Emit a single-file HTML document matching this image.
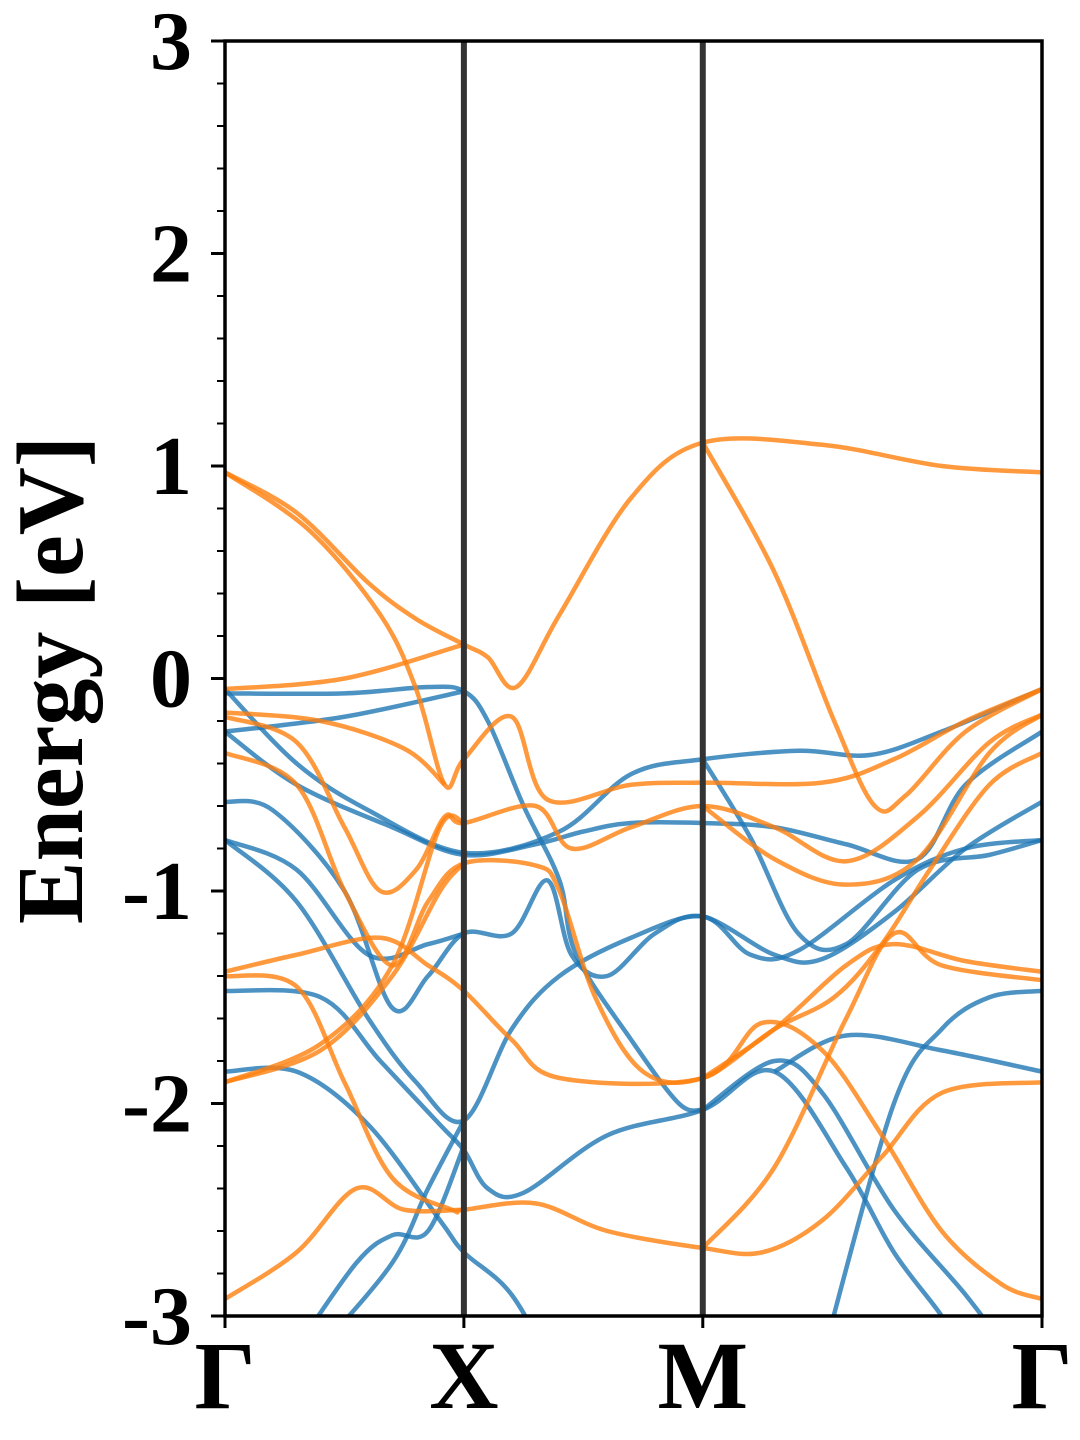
<!DOCTYPE html>
<html><head><meta charset="utf-8"><style>
body{margin:0;background:#fff}
svg{display:block}
text{font-family:"Liberation Serif",serif;font-weight:bold;fill:#000}
</style></head><body>
<svg id="chart" width="1080" height="1440" viewBox="0 0 1080 1440" xmlns="http://www.w3.org/2000/svg">
<defs><clipPath id="clip"><rect x="225" y="41" width="817" height="1275"/></clipPath></defs>
<g id="bands" clip-path="url(#clip)"></g>
<g id="axes"></g>
<text transform="translate(82,680) rotate(-90)" text-anchor="middle" font-size="94">Energy [eV]</text>
</svg>
<script>
const kLabels = ["Γ","X","M","Γ"];
const kPos = [0,1,2,3.42];
const yTicks = [3,2,1,0,-1,-2,-3];
const yTickLabels = ["3","2","1","0","-1","-2","-3"];
const blueBands = [
[[0,-0.07],[0.5,-0.07],[0.85,-0.04],[1.0,-0.06],[1.1,-0.2],[1.25,-0.6],[1.4,-0.95],[1.47,-1.3],[1.7,-1.7],[1.9,-2.0],[2.0,-2.03]],
[[0,-0.25],[0.5,-0.18],[1.0,-0.06]],
[[0,-0.05],[0.3,-0.4],[0.6,-0.62],[1.0,-0.82],[1.4,-0.72],[1.7,-0.45],[2.0,-0.38],[2.4,-0.34],[2.7,-0.36],[3.0,-0.25],[3.42,-0.05]],
[[0,-0.25],[0.3,-0.5],[0.7,-0.7],[1.0,-0.83],[1.3,-0.78],[1.5,-0.72],[1.7,-0.68],[2.0,-0.68],[2.3,-0.7],[2.6,-0.78],[2.9,-0.85],[3.1,-0.5],[3.42,-0.25]],
[[0,-0.58],[0.2,-0.62],[0.5,-1.0],[0.7,-1.55],[0.85,-1.4],[1.0,-1.2],[1.2,-1.2],[1.35,-0.95],[1.45,-1.3],[1.6,-1.4],[1.8,-1.2],[2.0,-1.12],[2.3,-1.3],[2.5,-1.32],[2.8,-1.1],[3.1,-0.8],[3.42,-0.58]],
[[0,-0.76],[0.3,-0.9],[0.6,-1.3],[0.85,-1.25],[1.0,-1.2]],
[[0,-0.76],[0.3,-1.05],[0.6,-1.6],[0.8,-1.9],[1.0,-2.08],[1.2,-1.65],[1.4,-1.4],[1.7,-1.22],[2.0,-1.12],[2.2,-1.3],[2.4,-1.28],[2.8,-0.95],[3.1,-0.8],[3.42,-0.76]],
[[2.0,-0.38],[2.2,-0.75],[2.4,-1.2],[2.6,-1.25],[2.9,-0.9],[3.2,-0.83],[3.42,-0.76]],
[[0,-1.47],[0.4,-1.5],[0.65,-1.8],[0.9,-2.1],[1.0,-2.22],[1.1,-2.4],[1.25,-2.42],[1.6,-2.15],[2.0,-2.03],[2.3,-1.85],[2.6,-2.3],[2.8,-2.7],[3.0,-3.0],[3.1,-3.2]],
[[0,-1.85],[0.3,-1.85],[0.6,-2.1],[0.9,-2.55],[1.0,-2.7],[1.2,-2.9],[1.4,-3.3]],
[[2.0,-2.03],[2.3,-1.8],[2.5,-1.95],[2.8,-2.5],[3.1,-2.9],[3.3,-3.2]],
[[0.4,-3.15],[0.7,-2.75],[0.85,-2.4],[1.0,-2.08]],
[[0.3,-3.15],[0.55,-2.75],[0.7,-2.62],[0.85,-2.6],[1.0,-2.2]],
[[2.5,-3.2],[2.8,-2.0],[3.0,-1.65],[3.2,-1.5],[3.42,-1.47]],
[[2.3,-1.85],[2.6,-1.68],[3.0,-1.75],[3.42,-1.85]]
];
const orangeBands = [
[[0,0.97],[0.3,0.78],[0.6,0.45],[0.8,0.28],[1.0,0.16],[1.1,0.1],[1.22,-0.04],[1.4,0.3],[1.7,0.85],[2.0,1.11],[2.5,1.1],[3.0,1.0],[3.42,0.97]],
[[0,0.97],[0.35,0.7],[0.65,0.3],[0.8,-0.05],[0.92,-0.5],[1.0,-0.38],[1.2,-0.18],[1.35,-0.57],[1.7,-0.5],[2.0,-0.49],[2.5,-0.49],[2.8,-0.38],[3.1,-0.2],[3.42,-0.05]],
[[0,-0.05],[0.5,0.0],[1.0,0.16]],
[[2.0,1.11],[2.3,0.5],[2.55,-0.2],[2.72,-0.6],[2.85,-0.55],[3.1,-0.25],[3.42,-0.05]],
[[0,-0.16],[0.4,-0.2],[0.75,-0.33],[0.92,-0.5]],
[[0,-0.18],[0.3,-0.3],[0.5,-0.7],[0.65,-1.0],[0.8,-0.9],[0.92,-0.65],[1.0,-0.68],[1.3,-0.6],[1.45,-0.8],[1.7,-0.7],[2.0,-0.6],[2.3,-0.7],[2.6,-0.86],[2.9,-0.65],[3.2,-0.3],[3.42,-0.17]],
[[0,-0.35],[0.3,-0.5],[0.5,-1.0],[0.7,-1.35],[0.85,-1.05],[1.0,-0.87],[1.3,-0.88],[1.4,-1.0],[1.55,-1.5],[1.75,-1.85],[2.0,-1.88],[2.3,-1.65],[2.55,-1.5],[2.75,-1.25],[2.95,-0.9],[3.2,-0.5],[3.42,-0.35]],
[[2.0,-0.6],[2.3,-0.85],[2.6,-0.97],[2.9,-0.85],[3.2,-0.35],[3.42,-0.17]],
[[0,-1.9],[0.4,-1.75],[0.7,-1.4],[0.9,-1.0],[1.0,-0.87]],
[[0,-1.9],[0.4,-1.72],[0.7,-1.35],[0.9,-0.7],[1.0,-0.68]],
[[0,-1.38],[0.3,-1.3],[0.65,-1.22],[0.85,-1.35],[1.0,-1.47],[1.2,-1.7],[1.4,-1.88],[2.0,-1.88],[2.25,-1.62],[2.5,-1.75],[2.75,-2.15],[3.0,-2.6],[3.25,-2.85],[3.42,-2.92]],
[[0,-1.4],[0.3,-1.45],[0.5,-1.9],[0.7,-2.35],[0.95,-2.5],[1.0,-2.5],[1.3,-2.47],[1.6,-2.6],[2.0,-2.68],[2.25,-2.7],[2.5,-2.55],[2.75,-2.25],[3.0,-1.95],[3.42,-1.9]],
[[0,-2.92],[0.3,-2.7],[0.55,-2.4],[0.75,-2.5],[1.0,-2.5]],
[[2.0,-1.88],[2.3,-1.65],[2.6,-1.35],[2.8,-1.25],[3.1,-1.33],[3.42,-1.38]],
[[2.0,-2.68],[2.3,-2.3],[2.6,-1.6],[2.8,-1.2],[3.0,-1.35],[3.42,-1.42]]
];
const X0=225,X1=1042,Y0=41,Y1=1316,EMIN=-3,EMAX=3,KMAX=3.42;
const xs=k=>X0+(k/KMAX)*(X1-X0);
const ys=e=>Y1-(e-EMIN)/(EMAX-EMIN)*(Y1-Y0);
const NS="http://www.w3.org/2000/svg";
function pathD(pts){
  const p=pts.map(q=>[xs(q[0]),ys(q[1])]);
  let d="M"+p[0][0]+","+p[0][1];
  for(let i=0;i<p.length-1;i++){
    const a=p[i-1]||p[i],b=p[i],c=p[i+1],e=p[i+2]||c;
    const c1=[b[0]+(c[0]-a[0])/6,b[1]+(c[1]-a[1])/6];
    const c2=[c[0]-(e[0]-b[0])/6,c[1]-(e[1]-b[1])/6];
    d+=" C"+c1+" "+c2+" "+c;
  }
  return d;
}
const g=document.getElementById("bands");
blueBands.forEach((b,i)=>{
  const el=document.createElementNS(NS,"path");
  el.setAttribute("d",pathD(b));
  el.setAttribute("fill","none");el.setAttribute("stroke","#1f77b4");el.setAttribute("stroke-opacity","0.8");el.setAttribute("stroke-width","4.5");
  
  
  g.appendChild(el);
});
orangeBands.forEach((b,i)=>{
  const el=document.createElementNS(NS,"path");
  el.setAttribute("d",pathD(b));
  el.setAttribute("fill","none");el.setAttribute("stroke","#ff7f0e");el.setAttribute("stroke-opacity","0.8");el.setAttribute("stroke-width","4.5");
  
  
  g.appendChild(el);
});
const ax=document.getElementById("axes");
function add(tag,attrs,parent){const el=document.createElementNS(NS,tag);for(const k in attrs)el.setAttribute(k,attrs[k]);(parent||ax).appendChild(el);return el;}
kPos.slice(1,3).forEach((k,i)=>{
  const l=add("line",{x1:xs(k),x2:xs(k),y1:Y0,y2:Y1,stroke:"#333","stroke-width":6});
  
  
});
const fr=add("rect",{x:X0,y:Y0,width:X1-X0,height:Y1-Y0,fill:"none",stroke:"#000","stroke-width":3.5});


for(let i=0;i<=30;i++){
  const e=EMIN+i*0.2;
  const major=Math.abs(e-Math.round(e))<1e-6;
  const t=add("line",{x1:X0-(major?14:8),x2:X0,y1:ys(e),y2:ys(e),stroke:"#000","stroke-width":major?3:2});
  
  
}
yTicks.forEach((v,i)=>{
  const t=add("text",{x:192,y:ys(v)+28,"text-anchor":"end","font-size":84});
  t.textContent=yTickLabels[i];
  
  
});
kPos.forEach((k,i)=>{
  const tk=add("line",{x1:xs(k),x2:xs(k),y1:Y1,y2:Y1+12,stroke:"#000","stroke-width":3});
  
  
  const t=add("text",{x:xs(k),y:1408,"text-anchor":"middle","font-size":96});
  t.textContent=kLabels[i];
  
  
});
</script>
</body></html>
